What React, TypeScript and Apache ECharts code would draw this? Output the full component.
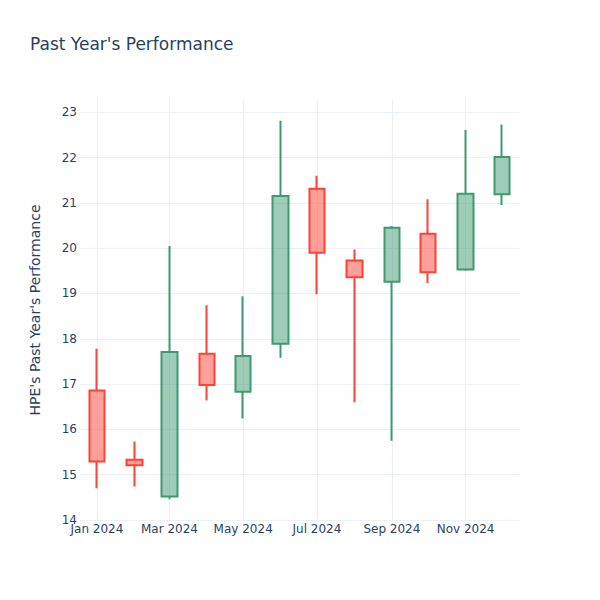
import React, { useEffect, useRef } from "react";
import * as echarts from "echarts";

const dates = [
  "2024-01-01", "2024-02-01", "2024-03-01", "2024-04-01", "2024-05-01", "2024-06-01",
  "2024-07-01", "2024-08-01", "2024-09-01", "2024-10-01", "2024-11-01", "2024-12-01",
];
const opens = [16.86, 15.33, 14.52, 17.67, 16.83, 17.89, 21.31, 19.73, 19.26, 20.32, 19.53, 21.19];
const closes = [15.29, 15.21, 17.71, 16.98, 17.62, 21.15, 19.9, 19.36, 20.45, 19.47, 21.2, 22.01];
const lows = [14.7, 14.74, 14.46, 16.64, 16.24, 17.58, 18.98, 16.6, 15.75, 19.23, 19.5, 20.95];
const highs = [17.78, 15.73, 20.05, 18.74, 18.94, 22.81, 21.6, 19.97, 20.49, 21.08, 22.61, 22.73];
const monthNames = ["Jan", "Feb", "Mar", "Apr", "May", "Jun", "Jul", "Aug", "Sep", "Oct", "Nov", "Dec"];
const xGridDates = ["2024-01-01", "2024-03-01", "2024-05-01", "2024-07-01", "2024-09-01", "2024-11-01"];
const yGridValues = [14, 15, 16, 17, 18, 19, 20, 21, 22, 23];

const titleText = "Past Year's Performance";
const yAxisTitle = "HPE's Past Year's Performance";

const FONT = "'DejaVu Sans', Verdana, sans-serif";
const TEXT_COLOR = "#2a3f5f";
const GRID_COLOR = "#EBF0F8";

export default function App() {
  const ref = useRef<HTMLDivElement>(null);

  useEffect(() => {
    if (!ref.current) return;
    const chart = echarts.init(ref.current, null, { renderer: "svg" });
    const data = dates.map((d, i) => [d, opens[i], closes[i], lows[i], highs[i]]);
    const gridLines = [
      ...xGridDates.map((d) => ({ xAxis: d })),
      ...yGridValues.map((v) => ({ yAxis: v })),
    ];
    chart.setOption({
      animation: false,
      backgroundColor: "#fff",
      textStyle: { fontFamily: FONT },
      title: {
        text: titleText,
        left: 30,
        top: 35,
        padding: 0,
        textStyle: { fontFamily: FONT, fontSize: 17, fontWeight: "normal", color: TEXT_COLOR },
      },
      grid: { left: 80, right: 80, top: 100, bottom: 80, containLabel: false },
      xAxis: {
        type: "time",
        min: new Date(2023, 11, 18).getTime(),
        max: new Date(2024, 11, 16).getTime(),
        axisLine: { show: false },
        axisTick: { show: false },
        splitLine: { show: false },
        axisLabel: {
          margin: 3,
          fontFamily: FONT,
          fontSize: 12,
          color: TEXT_COLOR,
          hideOverlap: false,
          formatter: (v: number) => {
            const d = new Date(v);
            return monthNames[d.getMonth()] + " " + d.getFullYear();
          },
        },
      },
      yAxis: {
        type: "value",
        min: 14,
        max: 23.27,
        interval: 1,
        name: yAxisTitle,
        nameLocation: "middle",
        nameRotate: 90,
        nameGap: 38,
        nameTextStyle: { fontFamily: FONT, fontSize: 14, color: TEXT_COLOR },
        axisLine: { show: false },
        axisTick: { show: false },
        splitLine: { show: false },
        axisLabel: {
          margin: 3,
          fontFamily: FONT,
          fontSize: 12,
          color: TEXT_COLOR,
          showMaxLabel: false,
        },
      },
      series: [
        {
          type: "candlestick",
          data,
          encode: { x: 0, y: [1, 2, 3, 4] },
          barWidth: 16,
          z: 2,
          itemStyle: {
            color: "rgba(61,153,112,0.5)",
            color0: "rgba(255,65,54,0.5)",
            borderColor: "#3D9970",
            borderColor0: "#FF4136",
            borderWidth: 2,
          },
          markLine: {
            silent: true,
            z: 1,
            symbol: ["none", "none"],
            label: { show: false },
            emphasis: { disabled: true },
            lineStyle: { color: GRID_COLOR, width: 1, type: "solid" },
            data: gridLines,
          },
        },
      ],
    });
    return () => chart.dispose();
  }, []);

  return (
    <div
      ref={ref}
      style={{ position: "absolute", left: 0, top: 0, width: 600, height: 600 }}
    />
  );
}
